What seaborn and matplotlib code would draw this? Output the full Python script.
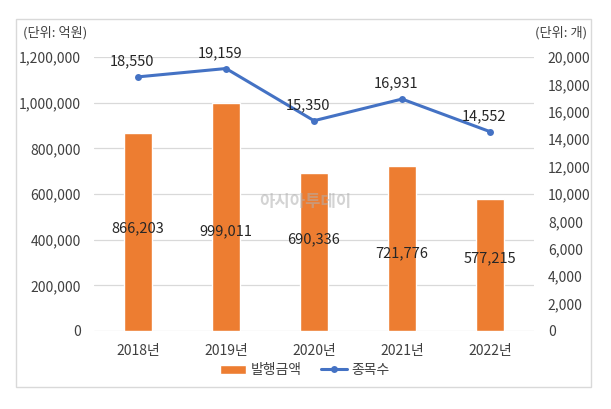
import matplotlib
matplotlib.use("Agg")
import matplotlib.pyplot as plt
import seaborn as sns
import pandas as pd
from matplotlib.patches import Rectangle

# ---- data ----
years = ["2018년", "2019년", "2020년", "2021년", "2022년"]
amount = [866203, 999011, 690336, 721776, 577215]      # 발행금액 (억원)
count = [18550, 19159, 15350, 16931, 14552]            # 종목수 (개)
left_ticks = [0, 200000, 400000, 600000, 800000, 1000000, 1200000]
right_ticks = [0, 2000, 4000, 6000, 8000, 10000, 12000, 14000, 16000, 18000, 20000]

# label heights for bar values (manual placement, in left-axis units)
bar_label_y = [451000, 438000, 403000, 342000, 320000]

sns.set_theme(style="white")
plt.rcParams['font.family'] = ['Noto Sans CJK KR', 'DejaVu Sans']

ORANGE = "#ED7D31"
BLUE = "#4472C4"
GRID = "#d9d9d9"
TXT = "#404040"

df = pd.DataFrame({"year": years, "amount": amount, "count": count})

fig = plt.figure(figsize=(6.11, 4.09), dpi=100)
ax = fig.add_axes([94/611, (409-331)/409, 440/611, (331-57)/409])

sns.barplot(data=df, x="year", y="amount", color=ORANGE, width=0.31,
            saturation=1, ax=ax, zorder=2, label="발행금액")
ax.set_ylim(0, 1200000)
ax.set_xlim(-0.5, 4.5)
ax.set_yticks(left_ticks)
ax.set_yticklabels([f"{v:,}" for v in left_ticks])
ax.yaxis.grid(True, color=GRID, lw=0.9, zorder=0)
ax.set_axisbelow(True)
for s in ax.spines.values():
    s.set_visible(False)
ax.set_xlabel("")
ax.set_ylabel("")
ax.tick_params(axis="y", length=0, pad=9.5, labelsize=10, labelcolor=TXT)
ax.tick_params(axis="x", length=0, pad=9, labelsize=10, labelcolor=TXT)

ax2 = ax.twinx()
sns.lineplot(data=df, x="year", y="count", color=BLUE, lw=2.2, marker="o",
             markersize=5, markeredgewidth=0, ax=ax2, zorder=3, label="종목수",
             legend=False)
ax2.set_ylim(0, 20000)
ax2.set_yticks(right_ticks)
ax2.set_yticklabels([f"{v:,}" for v in right_ticks])
for s in ax2.spines.values():
    s.set_visible(False)
ax2.set_ylabel("")
ax2.tick_params(axis="y", length=0, pad=10, labelsize=10, labelcolor=TXT)

# bar value labels
for i, (v, ly) in enumerate(zip(amount, bar_label_y)):
    ax.text(i, ly, f"{v:,}", ha="center", va="center", fontsize=10.5,
            color="#262626", zorder=5)

# line value labels
for i, v in enumerate(count):
    ax2.annotate(f"{v:,}", (i, v), xytext=(-4, 11), textcoords="offset points",
                 ha="center", va="center", fontsize=10.5, color="#262626",
                 zorder=5)

# unit labels
fig.text(23/611, 1-33/409, "(단위: 억원)", ha="left", va="center",
         fontsize=9.5, color=TXT)
fig.text(587/611, 1-33/409, "(단위: 개)", ha="right", va="center",
         fontsize=9.5, color=TXT)

# watermark
fig.text(305/611, 1-202/409, "아시아투데이", ha="center", va="center",
         fontsize=12, color="#b0b0b0", alpha=0.55, fontweight="bold", zorder=10)

# legend
h1, l1 = ax.get_legend_handles_labels()
h2, l2 = ax2.get_legend_handles_labels()
if ax.get_legend() is not None:
    ax.get_legend().remove()
fig.legend(h1 + h2, l1 + l2, loc="center", bbox_to_anchor=(305/611, 1-370/409),
           ncol=2, frameon=False, fontsize=10, handlelength=1.9,
           handleheight=0.6, handletextpad=0.3, columnspacing=1.4,
           labelcolor=TXT)

# outer border
fig.add_artist(Rectangle((16/611, (409-387)/409), 575/611, 368/409,
                         transform=fig.transFigure, fill=False,
                         edgecolor=GRID, lw=1.0))

fig.savefig("out.png", dpi=100)
